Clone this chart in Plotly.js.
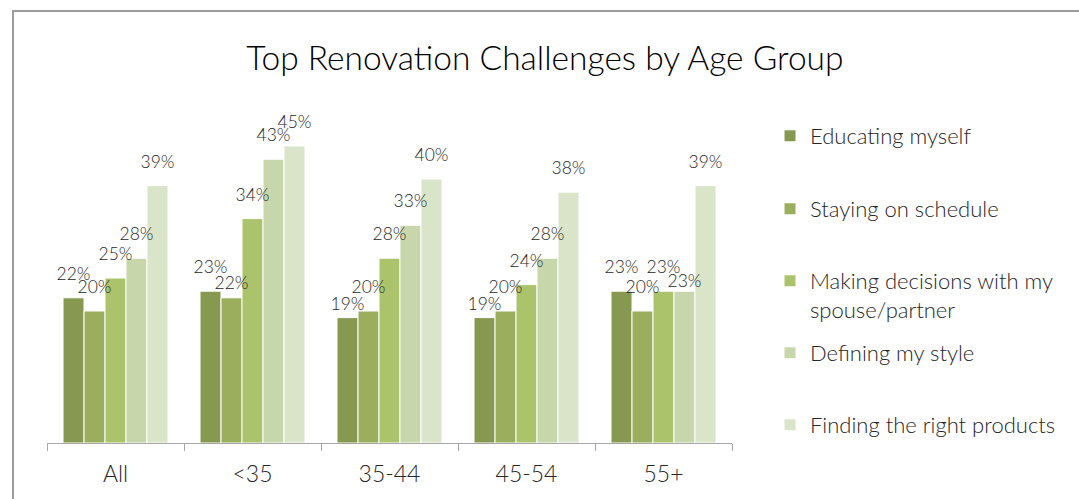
<!DOCTYPE html>
<html>
<head>
<meta charset="utf-8">
<script src="https://cdn.plot.ly/plotly-3.0.1.min.js"></script>
<style>
  html, body { margin: 0; padding: 0; background: #ffffff; }
  #chart { width: 1079px; height: 499px; }
</style>
</head>
<body>
<div id="chart"></div>
<script>
// ---- data ----
const categories = ['All', '<35', '35-44', '45-54', '55+'];
const seriesNames = [
  'Educating myself',
  'Staying on schedule',
  'Making decisions with my<br>spouse/partner',
  'Defining my style',
  'Finding the right products'
];
const educatingMyself = [22, 23, 19, 19, 23];
const stayingOnSchedule = [20, 22, 20, 20, 20];
const makingDecisions = [25, 34, 28, 24, 23];
const definingStyle = [28, 43, 33, 28, 23];
const findingProducts = [39, 45, 40, 38, 39];
const seriesColors = ['#879850', '#9AAE5E', '#ABC46C', '#C7D7AB', '#D9E4C8'];

// label placement style: [series index, category index, offset marker size] for labels set closer to their bar
const labelCloser = [[1, 1, 6], [0, 2, 3], [0, 3, 3], [3, 4, 0]];

const seriesValues = [educatingMyself, stayingOnSchedule, makingDecisions, definingStyle, findingProducts];
const FONT = 'Lato, "Open Sans", sans-serif';
const TEXT_COLOR = '#262626';

const legendTops = [115, 188, 260, 332, 404];
const legendIds = ['legend', 'legend2', 'legend3', 'legend4', 'legend5'];

const traces = [];
seriesValues.forEach((vals, i) => {
  traces.push({
    type: 'bar',
    name: seriesNames[i],
    x: categories,
    y: vals,
    offsetgroup: 'g' + i,
    legend: i === 0 ? undefined : legendIds[i],
    marker: { color: seriesColors[i], line: { color: '#ffffff', width: 1 } },
    hoverinfo: 'skip'
  });
});
seriesValues.forEach((vals, i) => {
  const sizes = vals.map(() => 20);
  labelCloser.forEach(([s, c, sz]) => { if (s === i) sizes[c] = sz; });
  traces.push({
    type: 'scatter',
    mode: 'markers+text',
    x: categories,
    y: vals,
    offsetgroup: 'g' + i,
    text: vals.map(v => v + '%'),
    textposition: 'top center',
    textfont: { family: FONT, size: 17.5, color: TEXT_COLOR, weight: 300 },
    marker: { size: sizes, opacity: 0 },
    cliponaxis: false,
    showlegend: false,
    hoverinfo: 'skip'
  });
});

const layout = {
  width: 1079,
  height: 499,
  paper_bgcolor: '#ffffff',
  plot_bgcolor: '#ffffff',
  margin: { l: 47, r: 347, t: 113, b: 56 },
  barmode: 'group',
  bargap: 0.234,
  bargroupgap: 0,
  scattermode: 'group',
  scattergap: 0.234,
  title: {
    text: 'Top Renovation Challenges by Age Group',
    font: { family: FONT, size: 33.5, color: '#000000', weight: 300 },
    xref: 'container', x: 0.505, xanchor: 'center',
    yref: 'container', y: 1 - 58 / 499, yanchor: 'middle'
  },
  xaxis: {
    type: 'category',
    showgrid: false,
    showline: true,
    linecolor: '#a6a6a6',
    linewidth: 1,
    ticks: 'outside',
    tickson: 'boundaries',
    ticklen: 7,
    tickcolor: '#a6a6a6',
    tickwidth: 1,
    ticklabelstandoff: 10,
    tickfont: { family: FONT, size: 23, color: TEXT_COLOR, weight: 300 },
    fixedrange: true
  },
  yaxis: {
    range: [0, 50],
    visible: false,
    showgrid: false,
    zeroline: false,
    fixedrange: true
  },
  shapes: [{
    type: 'rect', xref: 'paper', yref: 'paper',
    x0: (13 - 47) / 685, x1: 1.7,
    y0: -0.6, y1: (443 - 11) / 330,
    line: { color: '#9b9b9b', width: 2 },
    fillcolor: 'rgba(0,0,0,0)',
    layer: 'below'
  }]
};

legendIds.forEach((id, i) => {
  layout[id] = {
    xref: 'container', yref: 'container',
    x: 770 / 1079, xanchor: 'left',
    y: 1 - legendTops[i] / 499, yanchor: 'top',
    valign: 'top',
    bgcolor: 'rgba(0,0,0,0)',
    borderwidth: 0,
    itemwidth: 30,
    font: { family: FONT, size: 22, color: TEXT_COLOR, weight: 300 },
    itemclick: false, itemdoubleclick: false
  };
});

Plotly.newPlot('chart', traces, layout, { displayModeBar: false, staticPlot: true });
</script>
</body>
</html>
